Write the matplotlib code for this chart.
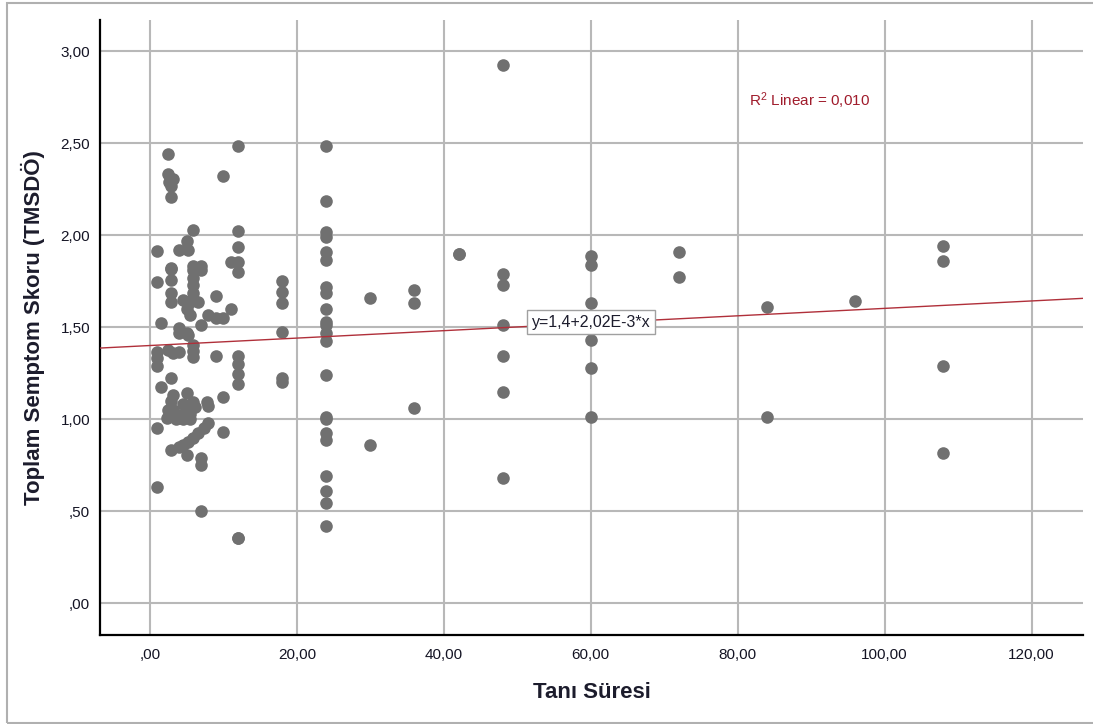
import matplotlib
matplotlib.use('Agg')
import matplotlib.pyplot as plt
import numpy as np
from matplotlib.patches import Rectangle

plt.rcParams['font.family'] = ['Liberation Sans', 'DejaVu Sans']
plt.rcParams['mathtext.fontset'] = 'custom'
plt.rcParams['mathtext.rm'] = 'Liberation Sans'
plt.rcParams['mathtext.default'] = 'regular'

# Tanı Süresi (ay) vs Toplam Semptom Skoru
tani_suresi = [
    1, 1, 1, 1, 1, 1, 1,
    1.45, 1.45, 2.3, 2.5, 2.5, 2.5, 2.6,
    2.9, 2.9, 2.9, 2.9, 2.9, 2.9, 2.9, 2.9, 2.9, 2.9,
    3.2, 3.2, 3.2, 3.2, 3.9, 3.9, 3.9,
    4, 4, 4, 4, 4.5, 4.5, 4.5,
    5, 5, 5, 5, 5, 5, 5.2, 5.2, 5.2, 5.4, 5.4, 5.4,
    5.9, 5.9, 5.9, 5.9, 5.9, 5.9, 5.9, 5.9, 5.9, 5.9, 5.9, 5.9,
    6.1, 6.5, 6.6, 6.9, 6.9, 6.9, 6.9, 7, 7, 7.3, 7.7, 7.9, 7.9, 7.9,
    9, 9, 9, 10, 10, 10, 10, 11, 11,
    12, 12, 12, 12, 12, 12, 12, 12, 12, 12, 12,
    2.5, 3.5, 4.5, 5.5,
    18, 18, 18, 18, 18, 18,
    24, 24, 24, 24, 24, 24, 24, 24, 24, 24, 24,
    24, 24, 24, 24, 24, 24, 24, 24, 24, 24, 24,
    30, 30, 36, 36, 36, 42, 42,
    48, 48, 48, 48, 48, 48, 48,
    60, 60, 60, 60, 60, 60,
    72, 72, 84, 84, 96,
    108, 108, 108, 108,
]
skor = [
    1.915, 1.746, 1.366, 1.33, 1.29, 0.95, 0.629,
    1.523, 1.176, 1.004, 2.444, 2.33, 1.375, 2.29,
    2.27, 2.21, 1.824, 1.815, 1.755, 1.685, 1.636, 1.221, 0.832, 1.10,
    2.308, 1.13, 1.36, 1.05, 1.47, 0.85, 1.02,
    1.92, 1.495, 1.364, 1.005, 1.647, 0.859, 1.08,
    1.97, 1.6, 1.143, 1.47, 0.804, 1.06, 1.92, 1.457, 0.877, 1.565, 1.03, 1.638,
    2.03, 1.83, 1.81, 1.765, 1.728, 1.685, 1.655, 1.402, 1.37, 1.337, 1.094, 0.895,
    1.067, 1.638, 0.922, 1.81, 0.79, 0.75, 0.502, 1.83, 1.511, 0.95, 1.094, 1.565, 1.07, 0.977,
    1.67, 1.55, 1.342, 2.32, 1.55, 1.12, 0.93, 1.855, 1.598,
    2.484, 2.024, 1.933, 1.855, 1.80, 1.342, 1.30, 1.245, 1.19, 0.352, 0.352,
    1.05, 1.0, 1.0, 1.0,
    1.752, 1.692, 1.629, 1.473, 1.223, 1.203,
    2.484, 2.185, 2.018, 1.99, 1.909, 1.864, 1.719, 1.683, 1.596, 1.529, 1.511,
    1.466, 1.426, 1.239, 1.009, 1.0, 0.926, 0.886, 0.690, 0.609, 0.542, 0.418,
    1.66, 0.859, 1.70, 1.632, 1.058, 1.90, 1.90,
    2.924, 1.788, 1.728, 1.511, 1.342, 1.148, 0.681,
    1.886, 1.84, 1.632, 1.43, 1.28, 1.009,
    1.91, 1.77, 1.61, 1.009, 1.641,
    1.94, 1.859, 1.288, 0.817,
]

# fit line as printed by SPSS
intercept = 1.4
slope = 2.02e-3
r2 = 0.010

x_ticks = [0, 20, 40, 60, 80, 100, 120]
y_ticks = [0, 0.5, 1.0, 1.5, 2.0, 2.5, 3.0]


def tr(v):
    # SPSS style: 0,50 -> ,50
    s = '%.2f' % v
    s = s.replace('.', ',')
    if s.startswith('0,'):
        s = s[1:]
    return s


fig = plt.figure(figsize=(10.93, 7.24), dpi=100)
ax = fig.add_axes([0.0915, 0.1229, 0.8994, 0.8495])

fig.patches.append(Rectangle((7 / 1093, 1.5 / 724), 1.2, 720 / 724,
                             transform=fig.transFigure, fill=False,
                             edgecolor='#b0b0b0', linewidth=1.5))

ax.scatter(tani_suresi, skor, s=82, color='#707070', linewidths=0, zorder=3)

xlim = (-6.8, 127.0)
xx = np.array(xlim)
ax.plot(xx, intercept + slope * xx, color='#b0303a', linewidth=1.0, zorder=4)

ax.set_xlim(xlim)
ax.set_ylim(-0.174, 3.17)
ax.set_xticks(x_ticks)
ax.set_yticks(y_ticks)
ax.set_xticklabels([tr(v) for v in x_ticks])
ax.set_yticklabels([tr(v) for v in y_ticks])
ax.tick_params(length=0, labelsize=11, colors='#141424')
ax.tick_params(axis='x', pad=9)
ax.tick_params(axis='y', pad=7)

ax.grid(True, color='#b8b8b8', linewidth=1.5)
ax.set_axisbelow(True)
for side in ['top', 'right']:
    ax.spines[side].set_visible(False)
for side in ['left', 'bottom']:
    ax.spines[side].set_linewidth(1.6)
    ax.spines[side].set_color('black')

ax.set_xlabel('Tanı Süresi', fontsize=16, fontweight='bold', color='#1c1c2c')
ax.set_ylabel('Toplam Semptom Skoru (TMSDÖ)', fontsize=16, fontweight='bold', color='#1c1c2c')
ax.xaxis.set_label_coords(0.5005, -0.077)
ax.yaxis.set_label_coords(-0.056, 0.5)

ax.text(60, 1.527, 'y=1,4+2,02E-3*x', fontsize=11.5, color='#1c1c2c',
        ha='center', va='center', zorder=5,
        bbox=dict(boxstyle='square,pad=0.3', facecolor='white',
                  edgecolor='#a0a0a0', linewidth=1.0))
ax.text(81.6, 2.73, 'R$^2$ Linear = ' + ('%.3f' % r2).replace('.', ','),
        fontsize=11, color='#a01c2c', ha='left', va='center')

fig.savefig('out.png', dpi=100)
